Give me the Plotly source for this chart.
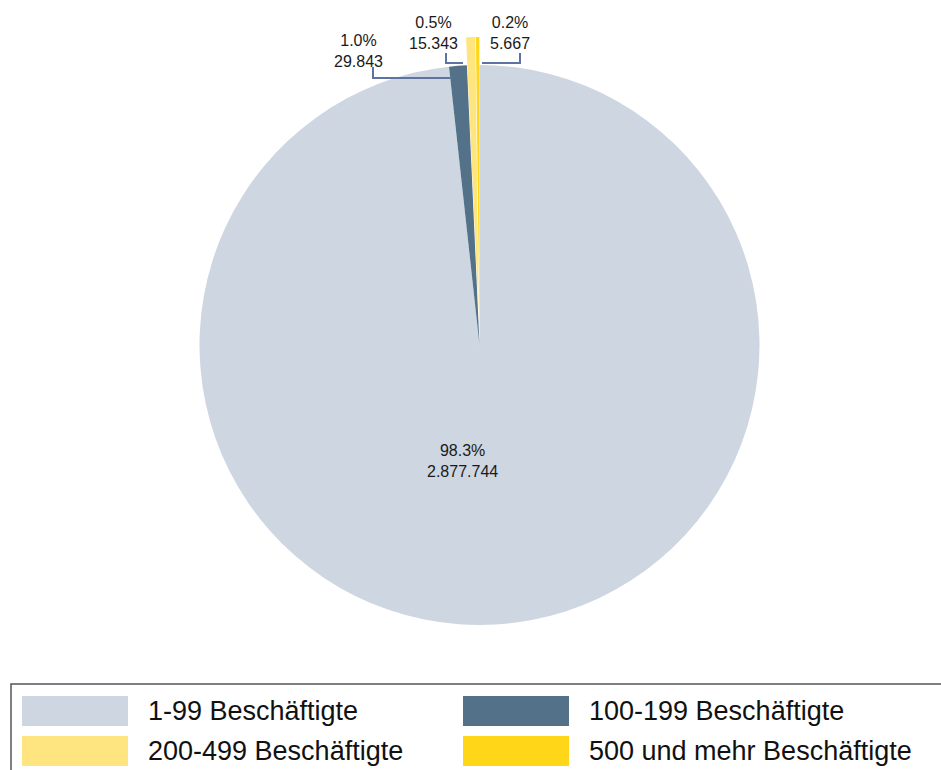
import plotly.graph_objects as go

W, H = 941, 770

categories = ["1-99 Beschäftigte", "100-199 Beschäftigte", "200-499 Beschäftigte", "500 und mehr Beschäftigte"]
companies = [2877744, 29843, 15343, 5667]
colors = ["#CDD6E1", "#537189", "#FFE57F", "#FFD618"]
pull = [0, 0, 0.1, 0.1]


def px(x, y):
    # pixel (from top-left) -> paper coords
    return x / W, 1 - y / H


def de_num(v):
    return f"{v:,}".replace(",", ".")


total = sum(companies)
label_texts = [f"{v / total * 100:.1f}%<br>{de_num(v)}" for v in companies]

fig = go.Figure()

# pie centre ~ (479.5, 345), radius ~280 -> domain side = 2 * 280 * (1 + max pull)
side = 2 * 280 * (1 + max(pull))
cx, cy = 479.5, 345
x0, y1 = px(cx - side / 2, cy - side / 2)
x1, y0 = px(cx + side / 2, cy + side / 2)

fig.add_trace(
    go.Pie(
        labels=categories,
        values=companies,
        marker=dict(colors=colors, line=dict(width=0)),
        pull=pull,
        sort=False,
        direction="clockwise",
        rotation=0,
        textinfo="none",
        showlegend=False,
        domain=dict(x=[x0, x1], y=[y0, y1]),
    )
)

# label positions (pixels) for each slice
label_pos = [(462, 461), (358, 51), (433, 33), (510, 33)]
for text, (lx, ly) in zip(label_texts, label_pos):
    ax, ay = px(lx, ly)
    fig.add_annotation(
        x=ax, y=ay, xref="paper", yref="paper", text=text, showarrow=False,
        font=dict(size=16, color="#1a1a1a", family="Liberation Sans, Arial"),
        align="center", xanchor="center", yanchor="middle",
    )

# leader lines
leaders = [
    [(373, 67), (373, 78), (452, 78)],
    [(446, 53), (446, 63), (463, 63)],
    [(482, 63), (520, 63), (520, 53)],
]
for pts in leaders:
    path = ""
    for i, (lx, ly) in enumerate(pts):
        ax, ay = px(lx, ly)
        path += ("M" if i == 0 else "L") + f"{ax},{ay} "
    fig.add_shape(type="path", path=path, xref="paper", yref="paper",
                  line=dict(color="#5F73A0", width=2))

# legend box
bx0, by0 = px(11, 684)
bx1, by1 = px(945, 775)
fig.add_shape(type="rect", xref="paper", yref="paper", x0=bx0, y0=by1, x1=bx1, y1=by0,
              line=dict(color="#555555", width=1.5), fillcolor="rgba(0,0,0,0)")

swatch_pos = [(22, 696), (463, 696), (22, 736), (463, 736)]
for name, col, (sx, sy) in zip(categories, colors, swatch_pos):
    ax0, ay1 = px(sx, sy)
    ax1, ay0 = px(sx + 106, sy + 30)
    fig.add_shape(type="rect", xref="paper", yref="paper", x0=ax0, y0=ay0, x1=ax1, y1=ay1,
                  line=dict(width=0), fillcolor=col)
    tx, ty = px(sx + 124, sy + 15)
    fig.add_annotation(
        x=tx, y=ty, xref="paper", yref="paper", text=name, showarrow=False,
        font=dict(size=27, color="#111111", family="Liberation Sans, Arial"),
        xanchor="left", yanchor="middle",
    )

fig.update_layout(
    width=W,
    height=H,
    margin=dict(l=0, r=0, t=0, b=0),
    paper_bgcolor="white",
    plot_bgcolor="white",
)

# drop the default body margin so the figure sits at the window's top-left corner
fig.write_html(
    "out.html",
    config={"displayModeBar": False},
    post_script="document.body.style.margin = '0';",
)
